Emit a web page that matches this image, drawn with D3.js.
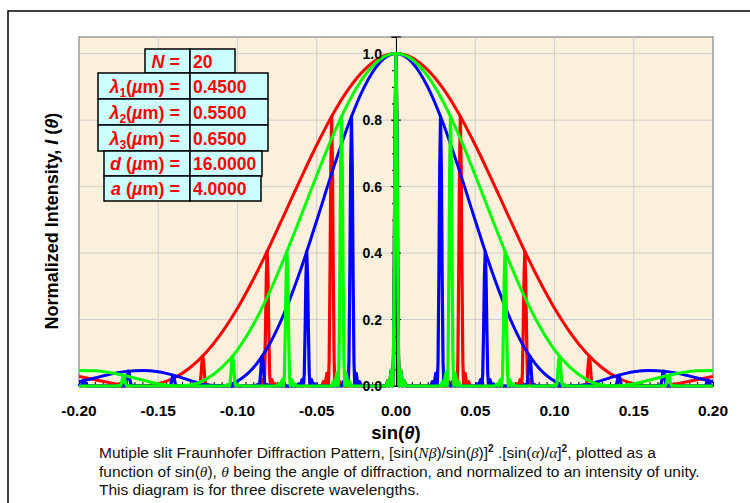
<!DOCTYPE html>
<html>
<head>
<meta charset="utf-8">
<script src="https://cdn.jsdelivr.net/npm/d3@7"></script>
<style>
  body { margin: 0; background: #fff; }
  text { font-family: Arial, "Liberation Sans", sans-serif; }
</style>
</head>
<body>
<svg id="chart" width="750" height="503"></svg>
<script>
// sin(theta) sample points for the envelope curves
var sinTheta = [-0.20,-0.19,-0.18,-0.17,-0.16,-0.15,-0.14,-0.13,-0.12,-0.11,-0.10,-0.09,-0.08,-0.07,-0.06,-0.05,-0.04,-0.03,-0.02,-0.01,
  0.00,0.01,0.02,0.03,0.04,0.05,0.06,0.07,0.08,0.09,0.10,0.11,0.12,0.13,0.14,0.15,0.16,0.17,0.18,0.19,0.20]

// single slit envelope
var envBlue = [0.013,0.024,0.036,0.044,0.047,0.043,0.032,0.017,0.004,0.0005,0.015,0.055,0.124,0.225,0.352,0.498,0.648,0.787,0.900,0.974,
  1,0.974,0.900,0.787,0.648,0.498,0.352,0.225,0.124,0.055,0.015,0.0005,0.004,0.017,0.032,0.043,0.047,0.044,0.036,0.024,0.013]
var envGreen = [0.047,0.046,0.040,0.030,0.018,0.007,0.0003,0.003,0.020,0.055,0.109,0.185,0.280,0.391,0.511,0.634,0.751,0.853,0.932,0.983,
  1,0.983,0.932,0.853,0.751,0.634,0.511,0.391,0.280,0.185,0.109,0.055,0.020,0.003,0.0003,0.007,0.018,0.030,0.040,0.046,0.047]
var envRed = [0.029,0.019,0.009,0.002,0.0002,0.007,0.024,0.055,0.100,0.160,0.234,0.321,0.418,0.521,0.625,0.725,0.816,0.893,0.951,0.988,
  1,0.988,0.951,0.893,0.816,0.725,0.625,0.521,0.418,0.321,0.234,0.160,0.100,0.055,0.024,0.007,0.0002,0.002,0.009,0.019,0.029]

// principal maxima (position, height)
var bluePeakX = [-0.1969,-0.1688,-0.1406,-0.0844,-0.0563,-0.0281,0,0.0281,0.0563,0.0844,0.1406,0.1688,0.1969]
var bluePeakY = [0.017,0.045,0.032,0.090,0.405,0.811,1,0.811,0.405,0.090,0.032,0.045,0.017]
var greenPeakX = [-0.1719,-0.1031,-0.0688,-0.0344,0,0.0344,0.0688,0.1031,0.1719]
var greenPeakY = [0.032,0.090,0.405,0.811,1,0.811,0.405,0.090,0.032]
var redPeakX = [-0.1219,-0.0813,-0.0406,0,0.0406,0.0813,0.1219]
var redPeakY = [0.090,0.405,0.811,1,0.811,0.405,0.090]

// shape of one principal maximum: [offset in half widths, relative height]
var peakProfile = [[-3,0],[-2.46,0.016],[-2,0],[-1.43,0.047],[-1,0],[-0.75,0.09],[-0.5,0.405],[-0.25,0.81],[0,1],
  [0.25,0.81],[0.5,0.405],[0.75,0.09],[1,0],[1.43,0.047],[2,0],[2.46,0.016],[3,0]]

var xTicks = [-0.20,-0.15,-0.10,-0.05,0.00,0.05,0.10,0.15,0.20]
var yTicks = [0.0,0.2,0.4,0.6,0.8,1.0]

var tableLabels = [
  [["N","i"],[" =",""]],
  [["\u03bb","i"],["1","sub"],["(",""],["\u00b5","i"],["m) =",""]],
  [["\u03bb","i"],["2","sub"],["(",""],["\u00b5","i"],["m) =",""]],
  [["\u03bb","i"],["3","sub"],["(",""],["\u00b5","i"],["m) =",""]],
  [["d","i"],[" (",""],["\u00b5","i"],["m) =",""]],
  [["a","i"],[" (",""],["\u00b5","i"],["m) =",""]]
]
var tableValues = ["20","0.4500","0.5500","0.6500","16.0000","4.0000"]

var captionLines = [
  [["Mutiple slit Fraunhofer Diffraction Pattern, [sin(",""],["N\u03b2","g"],[")/sin(",""],["\u03b2","g"],[")]",""],["2","sup"],
   [" .[sin(",""],["\u03b1","g"],[")/",""],["\u03b1","g"],["]",""],["2","sup"],[", plotted as a",""]],
  [["function of sin(",""],["\u03b8","g"],["), ",""],["\u03b8","g"],[" being the angle of diffraction, and normalized to an intensity of unity.",""]],
  [["This diagram is for three discrete wavelengths.",""]]
]

;(function(){
  var svg = d3.select('#chart')
  var left = 79, right = 713, top = 37, bottom = 386

  var x = d3.scaleLinear().domain([-0.2, 0.2]).range([left, right])
  var y = d3.scaleLinear().domain([0, 1.05]).range([bottom, top])

  // outer frame
  svg.append('path')
    .attr('d', 'M8,520 L8,11 L760,11')
    .attr('fill', 'none').attr('stroke', '#000').attr('stroke-width', 1.5)

  // plot area
  svg.append('rect')
    .attr('x', left).attr('y', top)
    .attr('width', right - left).attr('height', bottom - top)
    .attr('fill', '#FAF0DC').attr('stroke', '#9a9a9a').attr('stroke-width', 1.5)

  var grid = svg.append('g').attr('stroke', '#cfcfcf').attr('stroke-width', 1)
  grid.selectAll('.vg').data(xTicks.slice(1, -1)).enter().append('line')
    .attr('x1', d => x(d)).attr('x2', d => x(d))
    .attr('y1', top).attr('y2', bottom)
  grid.selectAll('.hg').data(yTicks.slice(1)).enter().append('line')
    .attr('x1', left).attr('x2', right)
    .attr('y1', d => y(d)).attr('y2', d => y(d))

  // x axis along y=0 with minor ticks
  var xAxis = d3.axisBottom(x).tickValues(d3.range(-40, 41).map(i => i * 0.005))
    .tickSize(-4).tickFormat('')
  svg.append('g').attr('transform', 'translate(0,' + y(0) + ')').call(xAxis)
    .call(g => g.select('.domain').attr('stroke', '#000'))

  // y axis through sin(theta)=0
  var yAxisMinor = d3.axisLeft(y).tickValues(d3.range(0, 22).map(i => i * 0.05))
    .tickSize(4).tickSizeOuter(0).tickFormat('')
  svg.append('g').attr('transform', 'translate(' + x(0) + ',0)').call(yAxisMinor)
  svg.append('g').selectAll('line').data(yTicks.concat([1.05])).enter().append('line')
    .attr('x1', x(0) - 5).attr('x2', x(0) + 5)
    .attr('y1', d => y(d)).attr('y2', d => y(d))
    .attr('stroke', '#000')

  // series
  var envLine = d3.line().x((d, i) => x(sinTheta[i])).y(d => y(d)).curve(d3.curveMonotoneX)
  var patLine = d3.line().x(d => x(d[0])).y(d => y(d[1]))
  var peakHalfWidth = 0.0021

  function patternPoints(px, py) {
    var pts = [[-0.2, 0]]
    px.forEach(function(p, i) {
      peakProfile.forEach(function(q) {
        var xx = p + q[0] * peakHalfWidth
        if (xx > -0.2 && xx < 0.2) pts.push([xx, py[i] * q[1]])
      })
    })
    pts.push([0.2, 0])
    return pts
  }

  var series = [
    {color: '#FF0000', env: envRed, px: redPeakX, py: redPeakY},
    {color: '#0000FF', env: envBlue, px: bluePeakX, py: bluePeakY},
    {color: '#00FF00', env: envGreen, px: greenPeakX, py: greenPeakY}
  ]
  series.forEach(function(s) {
    svg.append('path').attr('d', envLine(s.env))
      .attr('fill', 'none').attr('stroke', s.color).attr('stroke-width', 3)
    svg.append('path').attr('d', patLine(patternPoints(s.px, s.py)))
      .attr('fill', 'none').attr('stroke', s.color).attr('stroke-width', 3.2)
      .attr('stroke-linejoin', 'round')
  })

  // tick labels
  svg.append('g').selectAll('text').data(yTicks).enter().append('text')
    .attr('x', x(0) - 14).attr('y', d => y(d) + 5)
    .attr('text-anchor', 'end').attr('font-size', 14).attr('font-weight', 'bold')
    .text(d => d.toFixed(1))
  svg.append('g').selectAll('text').data(xTicks).enter().append('text')
    .attr('x', d => x(d)).attr('y', 416)
    .attr('text-anchor', 'middle').attr('font-size', 15.5).attr('font-weight', 'bold')
    .text(d => d.toFixed(2))

  // axis titles
  var xt = svg.append('text').attr('x', x(0)).attr('y', 439)
    .attr('text-anchor', 'middle').attr('font-size', 18.5).attr('font-weight', 'bold')
  xt.append('tspan').text('sin(')
  xt.append('tspan').attr('font-style', 'italic').text('\u03b8')
  xt.append('tspan').text(')')

  var yt = svg.append('text').attr('transform', 'translate(58,221) rotate(-90)')
    .attr('text-anchor', 'middle').attr('font-size', 18).attr('font-weight', 'bold')
  yt.append('tspan').text('Normalized Intensity, ')
  yt.append('tspan').attr('font-style', 'italic').text('I')
  yt.append('tspan').text(' (')
  yt.append('tspan').attr('font-style', 'italic').text('\u03b8')
  yt.append('tspan').text(')')

  // parameter table
  var rowY = [49, 73, 99, 125, 151, 176, 201]
  var labelLeft = [145, 98, 98, 98, 104, 104]
  var valueRight = [235, 268, 268, 268, 262, 261]
  var mid = 190
  var tbl = svg.append('g')
  tableValues.forEach(function(v, i) {
    tbl.append('rect').attr('x', labelLeft[i]).attr('y', rowY[i])
      .attr('width', mid - labelLeft[i]).attr('height', rowY[i + 1] - rowY[i])
      .attr('fill', '#CCFFFF').attr('stroke', '#000').attr('stroke-width', 1.5)
    tbl.append('rect').attr('x', mid).attr('y', rowY[i])
      .attr('width', valueRight[i] - mid).attr('height', rowY[i + 1] - rowY[i])
      .attr('fill', '#CCFFFF').attr('stroke', '#000').attr('stroke-width', 1.5)
    var cy = (rowY[i] + rowY[i + 1]) / 2 + 6.5
    var lt = tbl.append('text').attr('x', mid - 10).attr('y', cy)
      .attr('text-anchor', 'end').attr('font-size', 18).attr('font-weight', 'bold').attr('fill', '#FF0000')
    tableLabels[i].forEach(function(p, k) {
      var t = lt.append('tspan').text(p[0])
      if (p[1] == 'i') t.attr('font-style', 'italic')
      if (p[1] == 'sub') t.attr('font-size', 12).attr('dy', 4)
      else if (k > 0 && tableLabels[i][k - 1][1] == 'sub') t.attr('dy', -4)
    })
    tbl.append('text').attr('x', mid + 3).attr('y', cy)
      .attr('font-size', 17.5).attr('font-weight', 'bold').attr('fill', '#FF0000')
      .text(v)
  })

  // caption
  var capY = [458, 477, 495]
  captionLines.forEach(function(line, li) {
    var ct = svg.append('text').attr('x', 99).attr('y', capY[li])
      .attr('font-size', 15.5).attr('fill', '#111')
    line.forEach(function(p, k) {
      var t = ct.append('tspan').text(p[0])
      if (p[1] == 'g') t.attr('font-style', 'italic').style('font-family', '"Liberation Serif", "DejaVu Serif", serif')
      if (p[1] == 'sup') t.attr('font-size', 10).attr('font-weight', 'bold').attr('dy', -6)
      else if (k > 0 && line[k - 1][1] == 'sup') t.attr('dy', 6)
    })
  })
})()
</script>
</body>
</html>
